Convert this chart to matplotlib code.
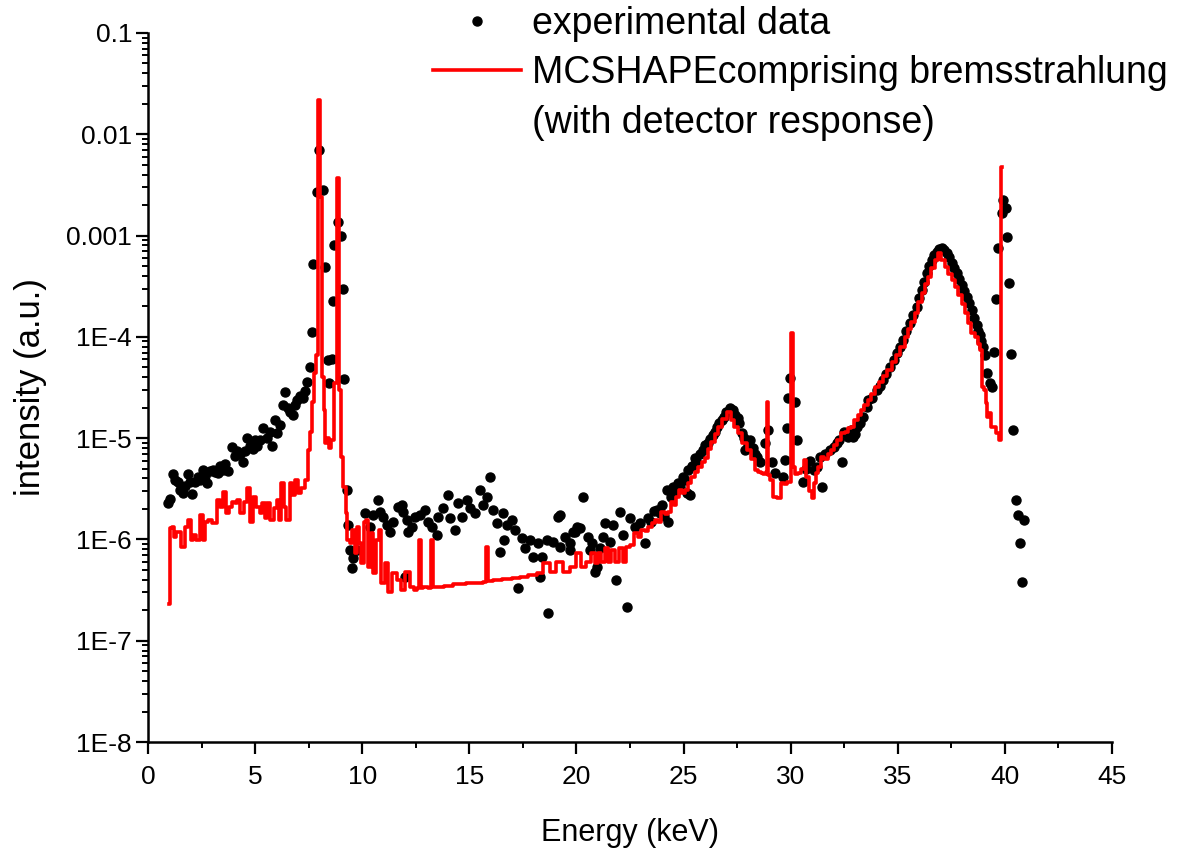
import matplotlib
matplotlib.use("Agg")
import matplotlib.pyplot as plt
from matplotlib.ticker import FixedLocator, LogLocator, NullFormatter, MultipleLocator
from matplotlib.lines import Line2D

plt.rcParams['font.family'] = ['Liberation Sans', 'DejaVu Sans']

# ---------------- data ----------------
exp_E = [0.93, 1.03, 1.17, 1.26, 1.40, 1.49, 1.63, 1.73, 1.87, 1.96, 2.05, 2.19, 2.33, 2.43, 2.57,
         2.66, 2.75, 2.89, 3.03, 3.13, 3.27, 3.36, 3.50, 3.59, 3.73, 3.92, 4.06, 4.15, 4.29, 4.43,
         4.53, 4.62, 4.76, 4.90, 5.00, 5.09, 5.23, 5.37, 5.55, 5.69, 5.79, 5.93, 6.02, 6.16, 6.30,
         6.39, 6.53, 6.63, 6.77, 6.86, 6.95, 7.09, 7.23, 7.33, 7.42, 7.56, 7.65, 7.70, 7.89, 7.98,
         8.17, 8.26, 8.40, 8.45, 8.59, 8.63, 8.68, 8.87, 9.01, 9.10, 9.15, 9.29, 9.33, 9.43, 9.52,
         9.57, 9.75, 10.13, 10.36, 10.50, 10.73, 10.83, 10.97, 11.15, 11.29, 11.43, 11.67, 11.85,
         11.90, 11.99, 12.09, 12.13, 12.32, 12.46, 12.69, 12.93, 13.07, 13.25, 13.49, 13.53, 13.77,
         14.00, 14.09, 14.33, 14.47, 14.65, 14.89, 15.03, 15.26, 15.49, 15.63, 15.82, 15.96, 16.10,
         16.29, 16.43, 16.57, 16.60, 16.75, 16.99, 17.13, 17.27, 17.45, 17.59, 17.83, 17.97, 18.20,
         18.29, 18.39, 18.62, 18.65, 18.90, 19.13, 19.23, 19.25, 19.46, 19.69, 19.72, 19.83, 19.93,
         20.02, 20.16, 20.30, 20.53, 20.63, 20.72, 20.86, 20.95, 21.09, 21.23, 21.33, 21.56, 21.70,
         21.84, 22.03, 22.17, 22.35, 22.49, 22.73, 22.96, 23.19, 23.33, 23.50, 23.60, 23.75, 23.89,
         24.00, 24.10, 24.22, 24.27, 24.40, 24.50, 24.60, 24.73, 24.85, 24.97, 25.05, 25.15, 25.20,
         25.29, 25.40, 25.52, 25.60, 25.75, 25.90, 25.99, 26.13, 26.25, 26.37, 26.45, 26.55, 26.65,
         26.79, 26.90, 27.00, 27.16, 27.30, 27.42, 27.53, 27.60, 27.72, 27.80, 27.86, 28.00, 28.10,
         28.23, 28.35, 28.45, 28.56, 28.79, 28.93, 29.12, 29.26, 29.63, 29.73, 29.82, 29.87, 29.96,
         30.19, 30.29, 30.57, 30.70, 30.90, 31.10, 31.22, 31.35, 31.45, 31.60, 31.82, 32.00, 32.15,
         32.25, 32.38, 32.50, 32.66, 32.80, 32.90, 33.00, 33.09, 33.22, 33.36, 33.55, 33.60, 33.80,
         34.02, 34.15, 34.30, 34.45, 34.62, 34.80, 34.95, 35.10, 35.23, 35.40, 35.56, 35.72, 35.88,
         36.00, 36.12, 36.23, 36.35, 36.47, 36.58, 36.70, 36.82, 36.93, 37.05, 37.17, 37.28, 37.40,
         37.52, 37.63, 37.75, 37.87, 37.98, 38.10, 38.22, 38.33, 38.45, 38.56, 38.68, 38.75, 38.82,
         38.90, 38.96, 39.06, 39.15, 39.29, 39.38, 39.48, 39.57, 39.66, 39.85, 39.90, 40.04, 40.08,
         40.18, 40.27, 40.36, 40.50, 40.60, 40.69, 40.78, 40.88]
exp_I = [2.3e-6, 2.5e-6, 4.4e-6, 3.9e-6, 3.7e-6, 3.1e-6, 2.9e-6, 3.4e-6, 4.4e-6, 3.65e-6, 2.8e-6, 3.7e-6, 4.1e-6, 3.9e-6, 4.9e-6,
         4.2e-6, 3.6e-6, 4.7e-6, 4.9e-6, 4.6e-6, 4.5e-6, 5.3e-6, 4.9e-6, 5.5e-6, 4.7e-6, 8.1e-6, 6.6e-6, 7.4e-6, 6.9e-6, 5.8e-6,
         7.4e-6, 1.0e-5, 8.3e-6, 7.8e-6, 9.6e-6, 8.3e-6, 9.6e-6, 1.25e-5, 1.0e-5, 1.15e-5, 8.3e-6, 1.5e-5, 1.12e-5, 1.35e-5, 2.1e-5,
         2.85e-5, 2.0e-5, 1.8e-5, 1.7e-5, 2.1e-5, 2.4e-5, 2.6e-5, 2.5e-5, 2.9e-5, 3.6e-5, 5.0e-5, 1.12e-4, 5.2e-4, 2.7e-3, 7.0e-3,
         2.8e-3, 4.9e-4, 5.9e-5, 3.5e-5, 6.1e-5, 2.26e-4, 8.1e-4, 1.36e-3, 1.0e-3, 3.0e-4, 3.8e-5, 3.1e-6, 1.39e-6, 7.9e-7, 5.2e-7,
         6.6e-7, 7.9e-7, 1.83e-6, 1.33e-6, 1.74e-6, 2.45e-6, 1.87e-6, 1.67e-6, 1.39e-6, 1.19e-6, 1.49e-6, 2.09e-6, 2.19e-6,
         1.87e-6, 4.3e-7, 1.56e-6, 1.19e-6, 1.33e-6, 1.67e-6, 1.74e-6, 1.96e-6, 1.49e-6, 1.33e-6, 1.11e-6, 1.67e-6, 2.05e-6,
         2.75e-6, 1.63e-6, 1.24e-6, 2.29e-6, 1.67e-6, 2.45e-6, 2.05e-6, 1.83e-6, 3.08e-6, 2.19e-6, 2.63e-6, 4.1e-6, 1.96e-6,
         1.46e-6, 7.5e-7, 1.83e-6, 9.9e-7, 1.39e-6, 1.56e-6, 1.24e-6, 3.3e-7, 1.04e-6, 8.2e-7, 9.9e-7, 6.7e-7, 9.2e-7,
         4.3e-7, 6.7e-7, 9.9e-7, 1.88e-7, 9.45e-7, 1.67e-6, 8.4e-7, 1.74e-6, 1.06e-6, 7.9e-7, 9.2e-7, 1.19e-6, 1.19e-6,
         1.33e-6, 1.30e-6, 2.63e-6, 1.06e-6, 7.9e-7, 9.2e-7, 4.8e-7, 5.4e-7, 8.2e-7, 1.06e-6, 1.46e-6, 9.45e-7, 1.39e-6,
         4.0e-7, 1.87e-6, 1.11e-6, 2.16e-7, 1.63e-6, 1.33e-6, 1.46e-6, 9.2e-7, 1.63e-6, 1.5e-6, 1.9e-6, 1.96e-6, 1.83e-6,
         2.2e-6, 1.7e-6, 3.08e-6, 1.49e-6, 2.6e-6, 3.3e-6, 2.9e-6, 3.6e-6, 3.3e-6, 4.1e-6, 3.9e-6, 2.88e-6, 4.85e-6,
         2.75e-6, 5.3e-6, 6.4e-6, 6.0e-6, 7.0e-6, 7.65e-6, 8.6e-6, 9.0e-6, 9.8e-6, 1.08e-5, 1.15e-5, 1.29e-5, 1.4e-5,
         1.51e-5, 1.6e-5, 1.8e-5, 1.99e-5, 1.9e-5, 1.7e-5, 1.58e-5, 1.4e-5, 1.12e-5, 1.0e-5, 7.65e-6, 8.5e-6, 9.5e-6,
         8.0e-6, 7.0e-6, 6.5e-6, 5.8e-6, 9.0e-6, 1.2e-5, 5.8e-6, 4.5e-6, 4.1e-6, 6.1e-6, 1.26e-5, 2.49e-5, 3.93e-5,
         2.28e-5, 9.6e-6, 3.7e-6, 5.0e-6, 6.0e-6, 4.8e-6, 5.2e-6, 6.5e-6, 3.3e-6, 7.0e-6, 7.65e-6, 8.2e-6, 9.0e-6,
         9.5e-6, 5.8e-6, 1.15e-5, 1.03e-5, 1.2e-5, 1.03e-5, 1.1e-5, 1.29e-5, 1.41e-5, 1.62e-5, 2.03e-5, 2.38e-5, 2.5e-5,
         2.99e-5, 3.3e-5, 3.76e-5, 4.3e-5, 5.05e-5, 5.9e-5, 6.94e-5, 8.0e-5, 9.3e-5, 1.15e-4, 1.37e-4, 1.65e-4, 1.97e-4,
         2.4e-4, 2.9e-4, 3.5e-4, 4.28e-4, 5.0e-4, 5.74e-4, 6.4e-4, 6.89e-4, 7.3e-4, 7.55e-4, 7.2e-4, 6.73e-4, 6.1e-4,
         5.37e-4, 4.8e-4, 4.28e-4, 3.7e-4, 3.25e-4, 2.85e-4, 2.48e-4, 2.15e-4, 1.85e-4, 1.55e-4, 1.31e-4, 1.15e-4, 1.04e-4,
         9.0e-5, 7.9e-5, 6.6e-5, 4.4e-5, 3.5e-5, 3.2e-5, 7.1e-5, 2.37e-4, 7.55e-4, 1.67e-3, 2.25e-3, 1.87e-3, 9.7e-4,
         3.4e-4, 6.8e-5, 1.2e-5, 2.45e-6, 1.74e-6, 9.2e-7, 3.8e-7, 1.56e-6]

sim_E = [1.00, 1.05, 1.17, 1.26, 1.40, 1.49, 1.63, 1.82, 1.96, 2.05, 2.19, 2.33, 2.52, 2.57, 2.75,
         2.89, 3.13, 3.27, 3.45, 3.59, 3.69, 3.83, 3.97, 4.15, 4.20, 4.39, 4.53, 4.67, 4.85, 4.99,
         5.13, 5.32, 5.37, 5.55, 5.60, 5.79, 5.93, 6.07, 6.16, 6.30, 6.39, 6.53, 6.72, 6.77, 6.95,
         7.09, 7.23, 7.42, 7.51, 7.65, 7.70, 7.79, 7.89, 7.98, 8.08, 8.17, 8.22, 8.30, 8.40, 8.50,
         8.60, 8.73, 8.87, 8.96, 9.05, 9.19, 9.29, 9.33, 9.52, 9.57, 9.75, 9.80, 9.89, 10.03, 10.13,
         10.22, 10.36, 10.45, 10.59, 10.73, 10.83, 10.97, 11.15, 11.29, 11.53, 11.76, 11.90, 12.13,
         12.32, 12.50, 12.64, 12.70, 12.76, 12.95, 13.20, 13.26, 13.32, 13.63, 14.00, 14.50, 15.17,
         15.50, 15.76, 15.82, 15.88, 16.30, 16.75, 17.20, 17.50, 18.00, 18.29, 18.60, 18.90, 19.23,
         19.55, 19.83, 20.16, 20.30, 20.63, 20.77, 20.95, 21.09, 21.23, 21.42, 21.56, 21.70, 21.89,
         22.12, 22.26, 22.40, 22.59, 22.82, 22.96, 23.10, 23.26, 23.43, 23.60, 23.75, 23.90, 24.03,
         24.20, 24.36, 24.48, 24.59, 24.70, 24.83, 25.00, 25.15, 25.30, 25.43, 25.60, 25.76, 25.92,
         26.09, 26.23, 26.37, 26.55, 26.70, 26.90, 27.11, 27.30, 27.45, 27.63, 27.85, 28.09, 28.25,
         28.42, 28.55, 28.65, 28.80, 28.87, 28.93, 28.99, 29.12, 29.26, 29.49, 29.63, 29.75, 29.87,
         29.98, 30.05, 30.12, 30.25, 30.43, 30.55, 30.66, 30.80, 30.92, 31.03, 31.12, 31.22, 31.36,
         31.50, 31.65, 31.80, 31.97, 32.10, 32.25, 32.43, 32.60, 32.75, 32.90, 33.05, 33.20, 33.36,
         33.50, 33.69, 33.85, 34.02, 34.20, 34.40, 34.62, 34.80, 35.00, 35.23, 35.40, 35.55, 35.70,
         35.88, 36.05, 36.20, 36.35, 36.49, 36.65, 36.80, 36.96, 37.12, 37.28, 37.45, 37.60, 37.75,
         37.90, 38.05, 38.22, 38.36, 38.50, 38.68, 38.80, 38.92, 38.96, 39.06, 39.15, 39.20, 39.29,
         39.38, 39.52, 39.66, 39.76, 39.85]
sim_I = [2.3e-7, 1.30e-6, 1.33e-6, 1.06e-6, 1.19e-6, 1.19e-6, 8.4e-7, 1.33e-6, 1.56e-6, 9.9e-7, 1.11e-6, 9.9e-7, 1.74e-6, 9.9e-7, 1.49e-6,
         1.56e-6, 1.46e-6, 2.45e-6, 2.09e-6, 2.94e-6, 1.83e-6, 2.09e-6, 2.34e-6, 2.29e-6, 2.45e-6, 1.83e-6, 2.34e-6, 3.22e-6, 1.49e-6, 2.63e-6,
         2.09e-6, 1.83e-6, 2.29e-6, 1.63e-6, 2.29e-6, 1.56e-6, 2.05e-6, 2.45e-6, 1.56e-6, 3.61e-6, 2.09e-6, 1.56e-6, 3.61e-6, 2.75e-6, 3.87e-6,
         2.88e-6, 3.22e-6, 3.87e-6, 7.65e-6, 1.15e-5, 2.28e-5, 4.4e-5, 6.6e-5, 2.2e-2, 2.4e-3, 4.0e-5, 1.9e-5, 9.0e-6, 1.0e-5, 8.0e-6,
         9.6e-6, 3.5e-5, 3.7e-3, 3.0e-5, 6.5e-6, 3.3e-6, 1.83e-6, 9.9e-7, 9.2e-7, 1.24e-6, 7.35e-7, 1.33e-6, 9.2e-7, 5.86e-7, 1.49e-6,
         1.56e-6, 5.36e-7, 1.16e-6, 4.67e-7, 9.9e-7, 1.24e-6, 3.72e-7, 5.86e-7, 3.03e-7, 4.67e-7, 3.98e-7, 3.17e-7, 4.78e-7,
         3.4e-7, 3.2e-7, 3.3e-7, 9.9e-7, 3.3e-7, 3.4e-7, 3.3e-7, 9.9e-7, 3.4e-7, 3.4e-7, 3.5e-7, 3.6e-7, 3.7e-7,
         3.75e-7, 3.8e-7, 8.4e-7, 3.9e-7, 4.0e-7, 4.1e-7, 4.2e-7, 4.3e-7, 4.5e-7, 4.7e-7, 5.8e-7, 4.8e-7, 6.0e-7,
         4.78e-7, 5.36e-7, 7.35e-7, 5.36e-7, 6.0e-7, 7.35e-7, 5.86e-7, 7.35e-7, 6.0e-7, 8.2e-7, 6.0e-7, 7.9e-7, 6.0e-7,
         8.2e-7, 6.0e-7, 8.4e-7, 8.8e-7, 1.16e-6, 1.05e-6, 1.24e-6, 1.2e-6, 1.33e-6, 1.45e-6, 1.56e-6, 1.5e-6, 1.87e-6,
         1.8e-6, 1.87e-6, 2.34e-6, 2.2e-6, 2.6e-6, 3.08e-6, 2.9e-6, 3.08e-6, 3.6e-6, 4.1e-6, 4.6e-6, 5.2e-6, 5.8e-6,
         6.37e-6, 7.8e-6, 9.2e-6, 1.1e-5, 1.3e-5, 1.55e-5, 1.82e-5, 1.5e-5, 1.3e-5, 1.12e-5, 9.0e-6, 7.65e-6, 6.2e-6,
         4.85e-6, 4.6e-6, 4.5e-6, 4.4e-6, 4.6e-6, 2.28e-5, 4.3e-6, 3.87e-6, 2.63e-6, 2.57e-6, 3.61e-6, 3.5e-6, 3.7e-6,
         3.7e-6, 1.09e-4, 5.2e-6, 4.4e-6, 4.5e-6, 5.0e-6, 6.1e-6, 4.1e-6, 3.0e-6, 2.57e-6, 3.6e-6, 4.5e-6, 5.2e-6,
         6.5e-6, 6.2e-6, 7.0e-6, 7.65e-6, 8.5e-6, 9.5e-6, 1.12e-5, 1.15e-5, 1.25e-5, 1.29e-5, 1.5e-5, 1.7e-5, 1.9e-5,
         2.1e-5, 2.38e-5, 2.7e-5, 3.2e-5, 3.6e-5, 4.1e-5, 4.7e-5, 5.6e-5, 6.6e-5, 7.9e-5, 1.0e-4, 1.2e-4, 1.4e-4,
         1.72e-4, 2.2e-4, 2.7e-4, 3.3e-4, 3.9e-4, 4.8e-4, 5.7e-4, 6.7e-4, 5.8e-4, 4.9e-4, 4.2e-4, 3.6e-4, 3.1e-4,
         2.6e-4, 2.1e-4, 1.72e-4, 1.37e-4, 1.1e-4, 1.0e-4, 8.5e-5, 7.4e-5, 3.2e-5, 3.0e-5, 2.2e-5, 1.62e-5, 1.78e-5,
         1.29e-5, 1.29e-5, 1.12e-5, 9.6e-6, 4.8e-3]

legend_labels = ["experimental data", "MCSHAPEcomprising bremsstrahlung", "(with detector response)"]
x_label = "Energy (keV)"
y_label = "intensity (a.u.)"
x_ticks = [0, 5, 10, 15, 20, 25, 30, 35, 40, 45]
y_ticks = [1e-1, 1e-2, 1e-3, 1e-4, 1e-5, 1e-6, 1e-7, 1e-8]
y_tick_labels = ["0.1", "0.01", "0.001", "1E-4", "1E-5", "1E-6", "1E-7", "1E-8"]

# ---------------- figure ----------------
fig = plt.figure(figsize=(11.82, 8.52), dpi=100)
ax = fig.add_axes([0.1252, 0.1291, 0.8156, 0.8322])

pts, = ax.plot(exp_E, exp_I, linestyle='none', marker='o', ms=6.5,
               color='black', mec='black', zorder=2)
sim, = ax.plot(sim_E, sim_I, color='#ff0000', lw=2.6, drawstyle='steps-mid', zorder=3)

ax.set_yscale('log')
ax.set_xlim(0, 45)
ax.set_ylim(1e-8, 1e-1)

ax.xaxis.set_major_locator(FixedLocator(x_ticks))
ax.xaxis.set_minor_locator(MultipleLocator(2.5))
ax.set_yticks(y_ticks)
ax.set_yticklabels(y_tick_labels)
ax.yaxis.set_minor_locator(LogLocator(base=10, subs=[2, 3, 4, 5, 6, 7, 8, 9], numticks=20))
ax.yaxis.set_minor_formatter(NullFormatter())

for s in ['top', 'right']:
    ax.spines[s].set_visible(False)
for s in ['left', 'bottom']:
    ax.spines[s].set_linewidth(1.8)

ax.tick_params(axis='both', which='major', direction='out', length=8.5, width=1.6, labelsize=19)
ax.tick_params(axis='both', which='minor', direction='out', length=4.5, width=1.4)
ax.tick_params(axis='x', which='major', pad=8)
ax.tick_params(axis='y', which='major', pad=3)

ax.set_xlabel(x_label, fontsize=22, labelpad=21)
ax.set_ylabel(y_label, fontsize=25, labelpad=14)

blank = Line2D([], [], color='none')
fig.legend([pts, sim, blank], legend_labels, loc='upper left',
           bbox_to_anchor=(0.3663, 0.993), frameon=False, fontsize=27,
           borderpad=0, borderaxespad=0, handlelength=2.35, handletextpad=0.3,
           labelspacing=0.36, numpoints=1, markerscale=1.0)

fig.savefig("out.png", dpi=100)
